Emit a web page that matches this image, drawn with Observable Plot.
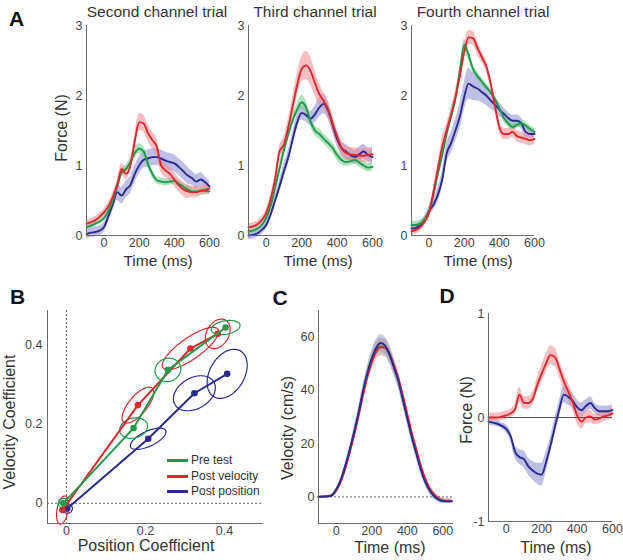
<!DOCTYPE html>
<html><head><meta charset="utf-8">
<script src="https://cdn.jsdelivr.net/npm/d3@7"></script>
<script src="https://cdn.jsdelivr.net/npm/@observablehq/plot@0.6"></script>
<style>
body{margin:0;background:#fff;}
#fig{position:relative;width:623px;height:560px;overflow:hidden;background:#fff;font-family:"Liberation Sans",Arial,sans-serif;}
.pp{position:absolute;}
.lbl{position:absolute;white-space:nowrap;color:#333;transform:translate(-50%,-50%);line-height:1;}
.rot{transform:translate(-50%,-50%) rotate(-90deg);}
.letter{position:absolute;font-weight:bold;font-size:21px;color:#111;transform:translate(-50%,-50%);line-height:1;}
.leg{position:absolute;display:flex;align-items:center;font-size:12px;color:#333;line-height:1;}
.leg span.sw{display:inline-block;width:21px;height:3px;margin-right:3px;}
</style></head><body><div id="fig"></div><script>
// ---------- DATA ----------
const T = [-100,-75,-50,-25,0,25,50,75,100,125,150,175,200,225,250,275,300,325,350,375,400,425,450,475,500,525,550,575,600];
const TC = [-100,-75,-50,-25,0,25,50,75,100,125,150,175,200,225,250,275,300,325,350,375,400,425,450,475,500,525,550,575,600,625,650];
const seriesNames = ["Pre test","Post velocity","Post position"];
const panelTitles = ["Second channel trial","Third channel trial","Fourth channel trial"];

// Panel A1 (second channel trial)
const a1Pre = [.12,.14,.17,.2,.25,.35,.5,.7,.9,.95,1.05,1.18,1.24,1.2,1.02,.88,.79,.77,.76,.77,.78,.74,.7,.66,.63,.63,.64,.64,.63];
const a1Vel = [.17,.19,.22,.27,.33,.42,.55,.72,.95,.88,1.0,1.35,1.62,1.6,1.46,1.36,1.27,1.0,.93,.88,.8,.72,.66,.63,.62,.62,.64,.65,.67];
const a1Pos = [.02,.04,.05,.07,.12,.28,.45,.62,.57,.66,.72,.88,1.0,1.08,1.1,1.12,1.12,1.1,1.07,1.05,1.03,.98,.92,.86,.82,.77,.8,.76,.7];
const a1PreSE = [.04,.04,.04,.04,.04,.04,.05,.05,.06,.06,.06,.07,.07,.07,.07,.06,.05,.05,.05,.05,.05,.05,.05,.05,.05,.05,.05,.05,.05];
const a1VelSE = [.05,.05,.05,.05,.05,.05,.06,.07,.08,.08,.08,.1,.12,.12,.12,.12,.12,.1,.1,.1,.1,.1,.1,.1,.08,.08,.07,.07,.07];
const a1PosSE = [.07,.07,.07,.07,.07,.08,.1,.12,.12,.12,.12,.12,.12,.12,.12,.12,.12,.12,.12,.12,.12,.12,.12,.12,.1,.1,.1,.08,.08];

// Panel A2 (third channel trial)
const a2Pre = [.06,.07,.1,.15,.25,.42,.68,.95,1.22,1.45,1.65,1.8,1.9,1.83,1.63,1.5,1.45,1.38,1.32,1.25,1.15,1.08,1.05,1.06,1.08,1.04,1.0,.97,.98];
const a2Vel = [.12,.13,.16,.22,.32,.52,.8,1.2,1.3,1.55,1.85,2.15,2.38,2.43,2.35,2.18,2.02,1.92,1.8,1.6,1.42,1.25,1.18,1.16,1.15,1.14,1.14,1.15,1.16];
const a2Pos = [0,.01,.03,.08,.15,.3,.5,.7,.92,1.12,1.38,1.62,1.75,1.72,1.67,1.73,1.83,1.88,1.78,1.58,1.38,1.25,1.2,1.15,1.12,1.16,1.2,1.15,1.12];
const a2PreSE = [.04,.04,.04,.04,.04,.05,.06,.07,.08,.08,.08,.08,.1,.1,.08,.07,.07,.07,.07,.07,.07,.07,.06,.06,.06,.06,.06,.06,.06];
const a2VelSE = [.05,.05,.05,.05,.05,.06,.07,.08,.1,.12,.14,.16,.18,.2,.2,.18,.15,.12,.12,.12,.1,.1,.1,.1,.1,.1,.1,.1,.1];
const a2PosSE = [.06,.06,.06,.06,.06,.07,.08,.09,.1,.1,.1,.1,.1,.1,.1,.12,.14,.14,.12,.1,.1,.1,.1,.1,.1,.1,.1,.1,.1];

// Panel A3 (fourth channel trial)
const a3Pre = [.15,.15,.17,.23,.35,.58,.88,1.15,1.45,1.7,1.95,2.35,2.72,2.58,2.38,2.28,2.2,2.12,2.05,1.95,1.82,1.68,1.6,1.55,1.58,1.6,1.57,1.52,1.48];
const a3Vel = [.06,.08,.12,.2,.32,.62,.95,1.27,1.5,1.72,1.97,2.28,2.62,2.83,2.82,2.68,2.55,2.42,2.18,1.85,1.55,1.45,1.45,1.48,1.42,1.4,1.38,1.36,1.38];
const a3Pos = [.1,.11,.15,.22,.35,.44,.58,.8,1.17,1.32,1.5,1.7,1.98,2.17,2.13,2.1,2.05,2.0,1.93,1.87,1.8,1.74,1.68,1.64,1.64,1.6,1.48,1.45,1.45];
const a3PreSE = [.05,.05,.05,.05,.05,.05,.05,.05,.06,.06,.06,.06,.08,.08,.06,.05,.05,.05,.05,.05,.05,.05,.05,.05,.05,.05,.05,.05,.05];
const a3VelSE = [.06,.06,.06,.06,.06,.07,.08,.12,.1,.1,.1,.1,.1,.1,.1,.1,.08,.08,.08,.08,.08,.08,.08,.08,.08,.08,.08,.08,.08];
const a3PosSE = [.05,.05,.05,.05,.06,.08,.1,.12,.14,.15,.16,.18,.2,.22,.2,.18,.15,.14,.12,.1,.1,.08,.08,.08,.08,.08,.08,.06,.06];

// Panel B (coefficients, trials 1..4)
const bPreX = [-0.008, 0.17, 0.257, 0.403];
const bPreY = [0.0, 0.19, 0.337, 0.444];
const bVelX = [-0.01, 0.181, 0.314, 0.383];
const bVelY = [-0.017, 0.248, 0.391, 0.428];
const bPosX = [0.002, 0.207, 0.324, 0.407];
const bPosY = [-0.013, 0.163, 0.278, 0.327];
// confidence ellipses: semi-major, semi-minor (data units), angle (deg)
const bPreA = [0.013, 0.036, 0.033, 0.037], bPreB = [0.012, 0.025, 0.029, 0.017], bPreAng = [0, 15, 20, 10];
const bVelA = [0.036, 0.056, 0.085, 0.040], bVelB = [0.014, 0.023, 0.027, 0.028], bVelAng = [80, 50, 35, 60];
const bPosA = [0.013, 0.049, 0.057, 0.067], bPosB = [0.012, 0.019, 0.039, 0.044], bPosAng = [0, 25, 30, 60];

// Panel C (velocity)
const cPre = [0,.1,.2,.6,2.6,6,11,17,23.8,31,39,46,51.5,55.3,56.6,56,53.2,48.8,43.8,37,30,23.2,17,11,6.2,2.8,.6,-.8,-1.4,-1.5,-1.5];
const cVel = [0,.1,.2,.5,2.4,5.6,10.5,16.5,23,30.2,38,45,50.5,54.5,56.2,56,53.8,49.5,44.5,38,31,24,18,12,7,3.3,1,-.6,-1.3,-1.5,-1.5];
const cPos = [0,.1,.2,.6,2.8,6.3,11.5,17.5,24.2,31.5,39.5,46.5,52,56,57.8,56.8,53.5,48.5,43.5,36.5,29.5,22.5,16.5,10.5,5.8,2.5,.3,-1,-1.6,-1.7,-1.7];
const cSE = [.2,.2,.3,.4,.6,.9,1.2,1.5,1.8,2.1,2.4,2.7,3,3.2,3.3,3.3,3.2,3,2.8,2.6,2.4,2.2,2,1.8,1.6,1.4,1.2,1,.9,.8,.8];

// Panel D (force difference)
const dVel = [0,0,0,.01,.02,.04,.08,.22,.14,.14,.18,.31,.42,.52,.6,.58,.47,.35,.25,.15,.02,-.04,0,.01,-.02,-.01,.01,.02,.04];
const dPos = [-.04,-.05,-.06,-.08,-.11,-.18,-.33,-.38,-.4,-.47,-.51,-.54,-.55,-.43,-.27,-.09,.08,.22,.2,.16,.1,.07,.11,.14,.09,.06,.06,.06,.07];
const dVelSE = [.04,.04,.04,.04,.04,.04,.05,.07,.06,.06,.06,.07,.08,.09,.09,.09,.08,.08,.08,.08,.08,.07,.06,.06,.05,.05,.05,.05,.05];
const dPosSE = [.03,.03,.03,.03,.04,.05,.06,.07,.08,.08,.09,.1,.11,.1,.08,.08,.08,.08,.08,.07,.07,.07,.06,.06,.05,.05,.05,.05,.05];

const timeTicks = [0,200,400,600];

// ---------- STYLE ----------
const COL = {pre:"#1f9a4b", vel:"#e3262d", pos:"#2a2a90"};
const BAND = {pre:"#6cc886", vel:"#f08a8f", pos:"#8b8bd0"};
const AX = "#6a6a6a";
const svgStyle = "background:transparent;overflow:visible;font-family:'Liberation Sans',Arial,sans-serif;font-size:12.5px;color:#444;max-width:none;";
const fig = document.getElementById("fig");

function rows(times, vals, se) { return times.map((t, i) => ({t, v: vals[i], lo: vals[i] - se[i], hi: vals[i] + se[i]})); }

function place(node, left, top) {
  const d = document.createElement("div"); d.className = "pp"; d.style.left = left + "px"; d.style.top = top + "px";
  d.appendChild(node); fig.appendChild(d);
}
function label(text, x, y, size, cls) {
  const d = document.createElement("div"); d.className = "lbl" + (cls ? " " + cls : "");
  d.style.left = x + "px"; d.style.top = y + "px"; d.style.fontSize = size + "px"; d.textContent = text; fig.appendChild(d);
}
function letter(text, x, y) {
  const d = document.createElement("div"); d.className = "letter"; d.style.left = x + "px"; d.style.top = y + "px"; d.textContent = text; fig.appendChild(d);
}

function timePlot({series, xDomain, yDomain, yTicks, width, height, ml, mr, mt, mb, zeroRule, bandOpacity = 0.55}) {
  const marks = [];
  for (const s of series) marks.push(Plot.areaY(s.data, {x: "t", y1: "lo", y2: "hi", fill: s.band, fillOpacity: bandOpacity, curve: "monotone-x"}));
  if (zeroRule) marks.push(Plot.ruleY([0], zeroRule));
  for (const s of series) marks.push(Plot.line(s.data, {x: "t", y: "v", stroke: s.color, strokeWidth: 1.9, curve: "monotone-x"}));
  marks.push(Plot.ruleX([xDomain[0]], {stroke: AX, strokeWidth: 1}));
  marks.push(Plot.ruleY([yDomain[0]], {stroke: AX, strokeWidth: 1}));
  marks.push(Plot.axisX(timeTicks, {label: null, tickSize: 0, tickPadding: 3, tickFormat: d => String(d)}));
  marks.push(Plot.axisY(yTicks, {label: null, tickSize: 0, tickPadding: 4, tickFormat: d => String(d)}));
  return Plot.plot({width, height, marginLeft: ml, marginRight: mr, marginTop: mt, marginBottom: mb,
    x: {domain: xDomain}, y: {domain: yDomain}, style: svgStyle, marks});
}

// ---------- PANEL A ----------
const aData = [
  [a1Pre, a1PreSE, a1Vel, a1VelSE, a1Pos, a1PosSE],
  [a2Pre, a2PreSE, a2Vel, a2VelSE, a2Pos, a2PosSE],
  [a3Pre, a3PreSE, a3Vel, a3VelSE, a3Pos, a3PosSE]
];
const aLayout = [
  {left: 0, width: 215, ml: 86, mr: 6, title: 157, xl: 158},
  {left: 200, width: 180, ml: 48, mr: 8, title: 315, xl: 318},
  {left: 370, width: 175, ml: 41, mr: 11, title: 483, xl: 478}
];
aData.forEach((d, i) => {
  const L = aLayout[i];
  const series = [
    {data: rows(T, d[4], d[5]), color: COL.pos, band: BAND.pos},
    {data: rows(T, d[0], d[1]), color: COL.pre, band: BAND.pre},
    {data: rows(T, d[2], d[3]), color: COL.vel, band: BAND.vel}
  ];
  place(timePlot({series, xDomain: [-100, 600], yDomain: [0, 3], yTicks: [0,1,2,3],
    width: L.width, height: 255, ml: L.ml, mr: L.mr, mt: 25, mb: 20}), L.left, 0);
  label(panelTitles[i], L.title, 12, 15.5);
  label("Time (ms)", L.xl, 261, 15.5);
});
label("Force (N)", 62, 128, 16, "rot");
letter("A", 16.5, 18);

// ---------- PANEL B ----------
function ellipse(cx, cy, a, b, deg, id) {
  const phi = deg * Math.PI / 180, pts = [];
  for (let k = 0; k <= 90; k++) {
    const th = k / 90 * 2 * Math.PI;
    pts.push({id, x: cx + a * Math.cos(th) * Math.cos(phi) - b * Math.sin(th) * Math.sin(phi),
                  y: cy + a * Math.cos(th) * Math.sin(phi) + b * Math.sin(th) * Math.cos(phi)});
  }
  return pts;
}
const bSets = [
  {X: bPosX, Y: bPosY, A: bPosA, B: bPosB, G: bPosAng, color: COL.pos},
  {X: bVelX, Y: bVelY, A: bVelA, B: bVelB, G: bVelAng, color: COL.vel},
  {X: bPreX, Y: bPreY, A: bPreA, B: bPreB, G: bPreAng, color: COL.pre}
];
const bMarks = [
  Plot.ruleX([0], {stroke: "#555", strokeWidth: 0.9, strokeDasharray: "2,2"}),
  Plot.ruleY([0], {stroke: "#555", strokeWidth: 0.9, strokeDasharray: "2,2"})
];
bSets.forEach((s, si) => {
  let pts = [];
  s.X.forEach((x, i) => { pts = pts.concat(ellipse(x, s.Y[i], s.A[i], s.B[i], s.G[i], si * 10 + i)); });
  bMarks.push(Plot.line(pts, {x: "x", y: "y", z: "id", stroke: s.color, strokeWidth: 1.2}));
});
bSets.forEach(s => {
  const pts = s.X.map((x, i) => ({x, y: s.Y[i]}));
  bMarks.push(Plot.line(pts, {x: "x", y: "y", stroke: s.color, strokeWidth: 2}));
  bMarks.push(Plot.dot(pts, {x: "x", y: "y", r: 3.3, fill: s.color, stroke: "none"}));
});
bMarks.push(Plot.ruleX([-0.048], {stroke: AX}));
bMarks.push(Plot.ruleY([-0.051], {stroke: AX}));
const fmtB = d => d === 0 ? "0" : d.toFixed(1);
bMarks.push(Plot.axisX([0, 0.2, 0.4], {label: null, tickSize: 0, tickPadding: 3, tickFormat: fmtB}));
bMarks.push(Plot.axisY([0, 0.2, 0.4], {label: null, tickSize: 0, tickPadding: 5, tickFormat: fmtB}));
place(Plot.plot({width: 275, height: 260, marginLeft: 47, marginRight: 12, marginTop: 30, marginBottom: 17,
  x: {domain: [-0.048, 0.499]}, y: {domain: [-0.051, 0.487]}, style: svgStyle, marks: bMarks}), 0, 280);
label("Velocity Coefficient", 10, 422, 16, "rot");
label("Position Coefficient", 146, 546, 16);
letter("B", 17.5, 295.5);
const legCols = [COL.pre, COL.vel, COL.pos], legY = [460, 476, 491];
seriesNames.forEach((n, i) => {
  const d = document.createElement("div"); d.className = "leg";
  d.style.left = "167px"; d.style.top = (legY[i] - 7) + "px"; d.style.height = "14px";
  const sw = document.createElement("span"); sw.className = "sw"; sw.style.background = legCols[i];
  d.appendChild(sw); d.appendChild(document.createTextNode(n)); fig.appendChild(d);
});

// ---------- PANEL C ----------
place(timePlot({
  series: [
    {data: rows(TC, cPre, cSE), color: COL.pre, band: BAND.pre},
    {data: rows(TC, cVel, cSE), color: COL.vel, band: BAND.vel},
    {data: rows(TC, cPos, cSE), color: COL.pos, band: BAND.pos}
  ],
  xDomain: [-100, 660], yDomain: [-10, 70], yTicks: [0, 20, 40, 60],
  width: 190, height: 260, ml: 48, mr: 7, mt: 30, mb: 17, bandOpacity: 0.4,
  zeroRule: {stroke: "#555", strokeWidth: 0.9, strokeDasharray: "2,2"}
}), 270, 280);
label("Velocity (cm/s)", 288, 428, 16, "rot");
label("Time (ms)", 390, 548, 16);
letter("C", 280, 297);

// ---------- PANEL D ----------
place(timePlot({
  series: [
    {data: rows(T, dPos, dPosSE), color: COL.pos, band: BAND.pos},
    {data: rows(T, dVel, dVelSE), color: COL.vel, band: BAND.vel}
  ],
  xDomain: [-100, 600], yDomain: [-1, 1], yTicks: [-1, 0, 1],
  width: 180, height: 260, ml: 48, mr: 8, mt: 33, mb: 19,
  zeroRule: {stroke: "#555", strokeWidth: 1}
}), 440, 280);
label("Force (N)", 467, 410, 16, "rot");
label("Time (ms)", 556, 548, 16);
letter("D", 447, 295);
</script></body></html>
